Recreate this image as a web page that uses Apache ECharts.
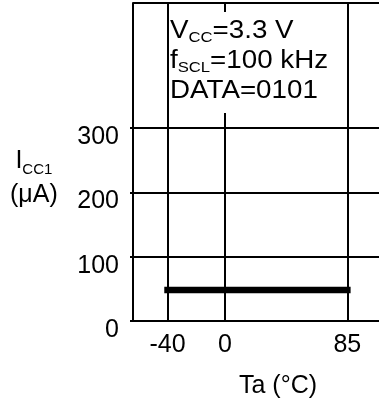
<!DOCTYPE html>
<html>
<head>
<meta charset="utf-8">
<script src="https://cdn.jsdelivr.net/npm/echarts@6/dist/echarts.min.js"></script>
<style>
  html, body { margin: 0; padding: 0; background: #fff; }
  #chart { width: 379px; height: 405px; }
</style>
</head>
<body>
<div id="chart"></div>
<script>
// Supply current vs. ambient temperature
const tempTicks = [-40, 0, 85];          // x tick labels (°C)
const currentTicks = [0, 100, 200, 300]; // y tick labels (µA)
const gridCurrents = [100, 200, 300];    // horizontal grid lines
const ta = [-40, 85];                    // ambient temperature (°C)
const icc1 = [48, 48];                   // supply current (µA)

const FONT = '"Liberation Sans", Arial, Helvetica, sans-serif';
const BLACK = '#000';
const FS = 25;
const X_MIN = -64;
const X_MAX = 107;
const Y_MAX = 494;

const chart = echarts.init(document.getElementById('chart'), null, { renderer: 'canvas' });

const lineData = ta.map((t, i) => [t, icc1[i]]);

// Grid: vertical lines at the temperature ticks, horizontal lines at the
// current ticks, plus the frame's left and top edges.
const gridLines = [
  { xAxis: X_MIN },
  ...tempTicks.map(v => ({ xAxis: v })),
  ...gridCurrents.map(v => ({ yAxis: v })),
  { yAxis: Y_MAX }
];

chart.setOption({
  animation: false,
  backgroundColor: '#fff',
  textStyle: { fontFamily: FONT },
  grid: { left: 133, right: 0, top: 3, bottom: 84 },
  xAxis: {
    type: 'value', min: X_MIN, max: X_MAX,
    axisLine: { show: true, onZero: false, lineStyle: { color: BLACK, width: 2 } },
    axisTick: { show: false },
    splitLine: { show: false },
    axisLabel: {
      customValues: tempTicks, color: BLACK, fontSize: FS, fontFamily: FONT, margin: 12
    },
    name: 'Ta (\u00b0C)',
    nameLocation: 'middle',
    nameGap: 53,
    nameTextStyle: { color: BLACK, fontSize: FS, fontFamily: FONT, padding: [0, 0, 0, 44] }
  },
  yAxis: {
    type: 'value', min: 0, max: Y_MAX,
    axisLine: { show: true, onZero: false, lineStyle: { color: BLACK, width: 2 } },
    axisTick: { show: true, customValues: currentTicks, length: 3, lineStyle: { color: BLACK, width: 2 } },
    splitLine: { show: false },
    axisLabel: {
      customValues: currentTicks, margin: 14,
      formatter: '{n|{value}}',
      rich: {
        n: { color: BLACK, fontSize: FS, fontFamily: FONT, lineHeight: 43, verticalAlign: 'bottom' }
      }
    }
  },
  series: [{
    type: 'line',
    data: lineData,
    symbol: 'none',
    lineStyle: { color: BLACK, width: 6.5, cap: 'square' },
    z: 5,
    markLine: {
      silent: true,
      symbol: ['none', 'none'],
      label: { show: false },
      lineStyle: { color: BLACK, width: 2, type: 'solid' },
      data: gridLines,
      z: 1
    }
  }],
  graphic: [
    {
      type: 'rect', z: 50,
      shape: { x: 169, y: 12, width: 176, height: 101 },
      style: { fill: '#fff' }
    },
    {
      // test conditions, set slightly wide
      type: 'text', z: 51, x: 170, y: 16, scaleX: 1.11, scaleY: 1,
      style: {
        text: '{v|V}{s|CC}{v|=3.3 V}\n{v|f}{s|SCL}{v|=100 kHz}\n{v|DATA=0101}',
        rich: {
          v: { fontSize: FS, lineHeight: 30, fontFamily: FONT, fill: BLACK },
          s: { fontSize: 15, lineHeight: 30, fontFamily: FONT, fill: BLACK, verticalAlign: 'bottom', padding: [0, 0, 1, 0] }
        }
      }
    },
    {
      type: 'text', z: 51, left: 10, top: 149,
      style: {
        text: '{v|I}{s|CC1}\n{v|(\u03bcA)}',
        align: 'center',
        rich: {
          v: { fontSize: FS, lineHeight: 34, fontFamily: FONT, fill: BLACK, align: 'center' },
          s: { fontSize: 15, lineHeight: 34, fontFamily: FONT, fill: BLACK, verticalAlign: 'bottom', padding: [0, 0, 1, 0] }
        }
      }
    }
  ]
});
</script>
</body>
</html>
